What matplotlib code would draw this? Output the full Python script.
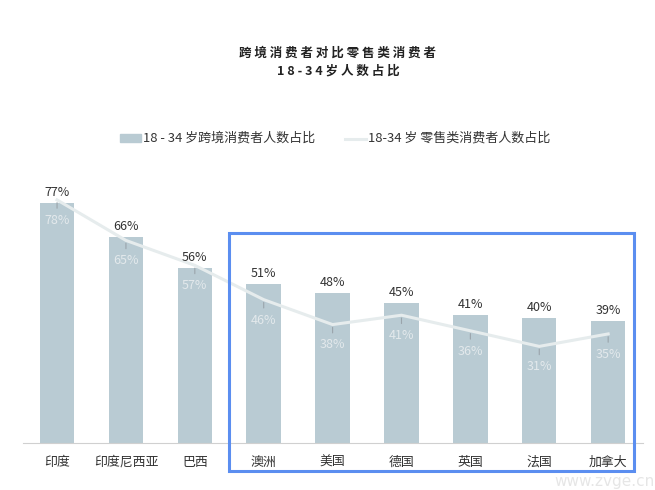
import matplotlib.pyplot as plt
import matplotlib.patches as patches
import numpy as np

plt.rcParams['font.family'] = ['Noto Sans CJK SC', 'DejaVu Sans']

# ---- data ----
countries = ["印度", "印度尼西亚", "巴西", "澳洲", "美国", "德国", "英国", "法国", "加拿大"]
cross_border = [77, 66, 56, 51, 48, 45, 41, 40, 39]   # 18-34 跨境消费者
retail = [78, 65, 57, 46, 38, 41, 36, 31, 35]         # 18-34 零售类消费者

bar_color = "#b9cbd3"
line_color = "#e6eced"
text_color = "#333333"

fig = plt.figure(figsize=(6.55, 4.9), dpi=100)
ax = fig.add_axes([22.6 / 655, 47 / 490, 620 / 655, 280.5 / 490])
x = np.arange(len(countries))

bars = ax.bar(x, cross_border, width=0.5, color=bar_color, zorder=1)
ax.plot(x, retail, color=line_color, lw=2.2, zorder=2)

for xi, v in zip(x, cross_border):
    ax.annotate(f"{v}%", (xi, v), xytext=(0, 3), textcoords="offset points",
                ha="center", va="bottom", fontsize=9, color=text_color)

for xi, v in zip(x, retail):
    ax.annotate("", (xi, v), xytext=(0, -8), textcoords="offset points",
                arrowprops=dict(arrowstyle="-", color="#9aa4ab", lw=0.8), zorder=3)
    ax.annotate(f"{v}%", (xi, v), xytext=(0, -10), textcoords="offset points",
                ha="center", va="top", fontsize=9, color="#e3e9ec", zorder=3)

ax.set_xlim(-0.5, len(countries) - 0.5)
ax.set_ylim(0, 90)
for s in ["top", "right", "left"]:
    ax.spines[s].set_visible(False)
ax.spines["bottom"].set_color("#d0d0d0")
ax.set_yticks([])
ax.set_xticks(x)
ax.set_xticklabels(countries, fontsize=9.3, color=text_color)
ax.tick_params(axis="x", length=0, pad=9)

# title
fig.text(0.516, 1 - 53 / 490, " ".join("跨境消费者对比零售类消费者"), ha="center", va="center",
         fontsize=9, fontweight="bold", color="#222222")
fig.text(0.516, 1 - 71 / 490, " ".join("18-34岁人数占比"), ha="center", va="center",
         fontsize=9, fontweight="bold", color="#222222")

# legend
fig.patches.append(patches.Rectangle((120 / 655, 1 - 142 / 490), 21 / 655, 8 / 490,
                                     transform=fig.transFigure, color=bar_color))
fig.text(143 / 655, 1 - 138 / 490, "18 - 34 岁跨境消费者人数占比", ha="left", va="center",
         fontsize=9.4, color=text_color)
fig.lines.append(plt.Line2D([345 / 655, 366 / 655], [1 - 139 / 490, 1 - 139 / 490],
                            transform=fig.transFigure, color=line_color, lw=2.2))
fig.text(368 / 655, 1 - 138 / 490, "18-34 岁 零售类消费者人数占比", ha="left", va="center",
         fontsize=9.4, color=text_color)

# highlight box
fig.patches.append(patches.Rectangle((229 / 655, 1 - 471 / 490), 405 / 655, 238 / 490,
                                     transform=fig.transFigure, fill=False,
                                     edgecolor="#5b8ef0", lw=2.2))

# watermark
fig.text(1.0, 1 - 481 / 490, "www.zvge.cn", ha="right", va="center", fontsize=11,
         color="#e6e6e6", family="DejaVu Sans")

fig.savefig("out.png", dpi=100)
